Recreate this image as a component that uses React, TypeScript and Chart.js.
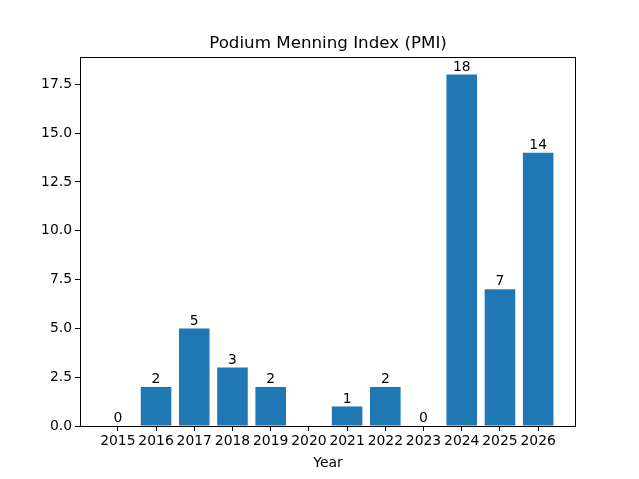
import { useEffect, useRef } from "react"
import { Chart, registerables } from "chart.js"

Chart.register(...registerables)

const years = [2015, 2016, 2017, 2018, 2019, 2020, 2021, 2022, 2023, 2024, 2025, 2026]
const pmiValues = [0, 2, 5, 3, 2, 0, 1, 2, 0, 18, 7, 14]
const yTicks = [0, 2.5, 5, 7.5, 10, 12.5, 15, 17.5]
// zero-height bars get a label too, but 2020 has none in the picture
const shownLabels = [true, true, true, true, true, false, true, true, true, true, true, true]

const FONT = "'DejaVu Sans', sans-serif"
const BLUE = "#1f77b4"

// title, box around the axes and value labels on the bars
const decorPlugin = {
  id: "decor",
  afterDatasetsDraw(chart: any) {
    const { ctx, chartArea } = chart
    const meta = chart.getDatasetMeta(0)
    ctx.save()
    ctx.fillStyle = "#000"
    ctx.font = `13.9px ${FONT}`
    ctx.textAlign = "center"
    ctx.textBaseline = "bottom"
    meta.data.forEach((bar: any, i: number) => {
      if (!shownLabels[i]) return
      ctx.fillText(String(pmiValues[i]), bar.x, bar.y - 0.5)
    })
    ctx.strokeStyle = "#000"
    ctx.lineWidth = 1
    ctx.strokeRect(chartArea.left + 0.5, chartArea.top + 0.5, chartArea.right - chartArea.left - 1, chartArea.bottom - chartArea.top)
    ctx.font = `16.7px ${FONT}`
    ctx.textBaseline = "alphabetic"
    ctx.fillText("Podium Menning Index (PMI)", (chartArea.left + chartArea.right) / 2, chartArea.top - 9)
    ctx.restore()
  },
}

export default function App() {
  const chartRef = useRef<HTMLCanvasElement>(null)
  const chartInstance = useRef<Chart | null>(null)

  useEffect(() => {
    document.body.style.margin = "0"
    if (!chartRef.current) return
    if (chartInstance.current) chartInstance.current.destroy()
    const ctx = chartRef.current.getContext("2d")
    if (!ctx) return

    chartInstance.current = new Chart(ctx, {
      type: "bar",
      data: {
        datasets: [
          {
            label: "PMI",
            data: years.map((y, i) => ({ x: y, y: pmiValues[i] })),
            backgroundColor: BLUE,
            borderWidth: 0,
            inflateAmount: 0,
            barPercentage: 0.8,
            categoryPercentage: 1,
          },
        ],
      },
      options: {
        responsive: false,
        animation: false,
        layout: { padding: { top: 57, right: 63, left: 0, bottom: 0 } },
        plugins: {
          legend: { display: false },
          tooltip: { enabled: false },
        },
        scales: {
          x: {
            type: "linear",
            offset: false,
            min: 2015 - 0.99,
            max: 2026 + 0.99,
            afterBuildTicks: (axis: any) => {
              axis.ticks = years.map((v) => ({ value: v }))
            },
            afterFit: (axis: any) => {
              axis.height = 53
            },
            ticks: {
              color: "#000",
              font: { family: FONT, size: 13.9 },
              padding: 2,
              maxRotation: 0,
              autoSkip: false,
              callback: (v: any) => String(v),
            },
            grid: { display: true, offset: false, drawOnChartArea: false, drawTicks: true, tickLength: 5, color: "#000" },
            border: { display: false },
            title: { display: true, text: "Year", color: "#000", font: { family: FONT, size: 13.9 }, padding: { top: 0, bottom: 7 } },
          },
          y: {
            min: 0,
            max: 18.9,
            afterBuildTicks: (axis: any) => {
              axis.ticks = yTicks.map((v) => ({ value: v }))
            },
            afterFit: (axis: any) => {
              axis.width = 80
            },
            ticks: {
              color: "#000",
              font: { family: FONT, size: 13.9 },
              padding: 3,
              callback: (v: any) => Number(v).toFixed(1),
            },
            grid: { display: true, drawOnChartArea: false, drawTicks: true, tickLength: 5, color: "#000" },
            border: { display: false },
          },
        },
      },
      plugins: [decorPlugin],
    })

    return () => {
      if (chartInstance.current) chartInstance.current.destroy()
    }
  }, [])

  return (
    <div style={{ width: 639, height: 479, background: "#fff" }}>
      <canvas ref={chartRef} width={639} height={479} />
    </div>
  )
}
